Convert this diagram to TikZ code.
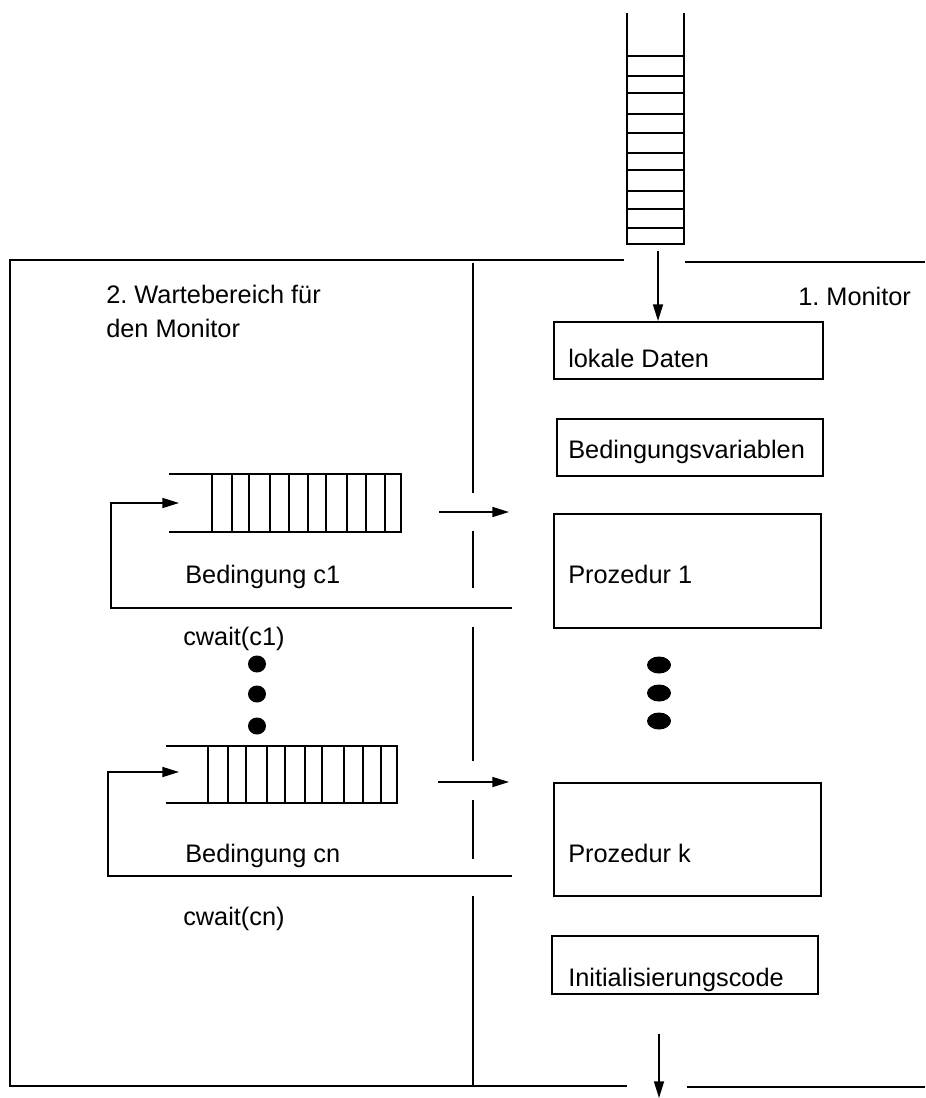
\documentclass[tikz,border=0pt]{standalone}
\usepackage{fontspec}
\setmainfont{Liberation Sans}
\usetikzlibrary{arrows.meta,shapes.geometric}
\frenchspacing
\begin{document}
\begin{tikzpicture}[x=0.75pt,y=-0.75pt,
  ln/.style={line width=1.3pt},
  frm/.style={line width=1.6pt},
  box/.style={draw, line width=1.3pt, inner sep=0pt, anchor=north west},
  lbl/.style={anchor=base west, inner sep=0pt, font=\fontsize{19pt}{23pt}\selectfont},
  arr/.style={line width=1.3pt, -{Triangle[length=12.5pt,width=7.5pt]}},
  bigdot/.style={ellipse, fill=black, inner sep=0pt, minimum width=18pt, minimum height=12.75pt},
  smalldot/.style={ellipse, fill=black, inner sep=0pt, minimum width=13.5pt, minimum height=12.75pt}]
\useasboundingbox (0,0) rectangle (925,1098);

% top entry queue
\draw[ln] (627,13) -- (627,244) -- (684,244) -- (684,13);
\foreach \y in {56,76,93,114,133,153,170,191,209,228}
  \draw[ln] (627,\y) -- (684,\y);

% outer frame
\draw[frm] (624,260) -- (10,260) -- (10,1086) -- (627,1086);
\draw[frm] (685,262) -- (925,262);
\draw[frm] (687,1087) -- (925,1087);

% divider
\foreach \a/\b in {263/493,531/588,627/761,800/859,896/1086}
  \draw[ln] (473,\a) -- (473,\b);

% boxes
\node[box, minimum width=201.75pt, minimum height=42.75pt] (lokale) at (553,321) {};
\node[box, minimum width=199.5pt, minimum height=42.75pt] (bvar) at (556,418) {};
\node[box, minimum width=200.25pt, minimum height=85.5pt] (proz1) at (553,513) {};
\node[box, minimum width=200.25pt, minimum height=84.75pt] (prozk) at (553,782) {};
\node[box, minimum width=199.5pt, minimum height=43.5pt] (init) at (551,935) {};

% texts
\node[lbl] (tmon) at (798,305) {1. Monitor};
\node[lbl] (twart1) at (106,303) {2. Wartebereich für};
\node[lbl] (twart2) at (106,337) {den Monitor};
\node[lbl] (tlok) at (568,367) {lokale Daten};
\node[lbl] (tbvar) at (568,458) {Bedingungsvariablen};
\node[lbl] (tp1) at (568,583) {Prozedur 1};
\node[lbl] (tpk) at (568,862) {Prozedur k};
\node[lbl] (tinit) at (568,986) {Initialisierungscode};
\node[lbl] (tb1) at (185,583) {Bedingung c1};
\node[lbl] (tbn) at (185,862) {Bedingung cn};
\node[lbl] (tw1) at (183,645) {cwait(c1)};
\node[lbl] (twn) at (183,925) {cwait(cn)};

% entry / exit arrows
\coordinate (ain) at (658,251);
\draw[arr] (ain) -- (ain |- lokale.north);
\coordinate (aout1) at (659,1034);
\coordinate (aout2) at (659,1098);
\draw[arr] (aout1) -- (aout2);

% condition queue 1
\draw[ln] (169,474) -- (401,474) -- (401,532) -- (169,532);
\foreach \x in {212,232,249,270,289,308,326,347,366,385}
  \draw[ln] (\x,474) -- (\x,532);
\coordinate (l1s) at (512,608);
\coordinate (l1e) at (179,503);
\draw[arr] (l1s) -- (111,608) -- (111,503) -- (l1e);
\coordinate (r1s) at (439,512);
\coordinate (r1e) at (509,512);
\draw[arr] (r1s) -- (r1e);

% condition queue n
\draw[ln] (166,746) -- (397,746) -- (397,803) -- (166,803);
\foreach \x in {208,228,246,267,285,305,322,344,363,381}
  \draw[ln] (\x,746) -- (\x,803);
\coordinate (lns) at (512,876);
\coordinate (lne) at (179,772);
\draw[arr] (lns) -- (108,876) -- (108,772) -- (lne);
\coordinate (rns) at (438,782);
\coordinate (rne) at (509,782);
\draw[arr] (rns) -- (rne);

% dots
\node[smalldot] (ld1) at (257,664) {};
\node[smalldot] (ld2) at (257,694) {};
\node[smalldot] (ld3) at (257,726) {};
\node[bigdot] (rd1) at (659,665) {};
\node[bigdot] (rd2) at (659,693) {};
\node[bigdot] (rd3) at (659,721) {};
\end{tikzpicture}
\end{document}
